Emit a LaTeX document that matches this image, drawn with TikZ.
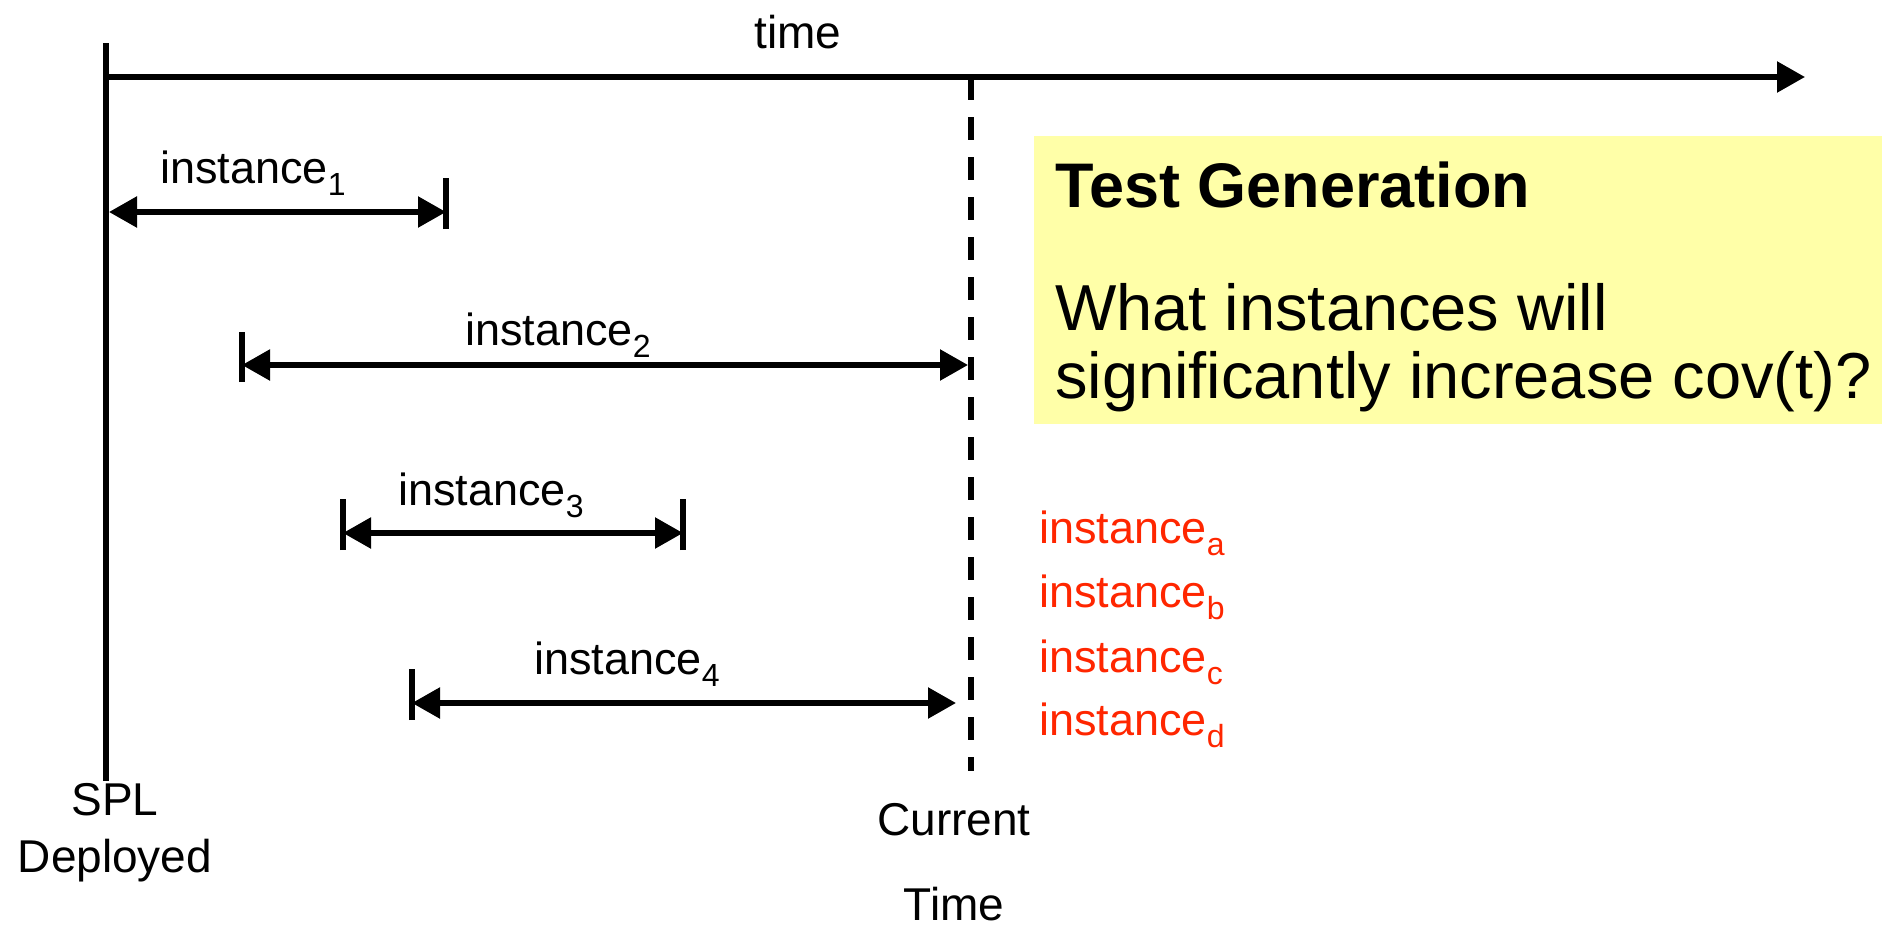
\documentclass[tikz,border=0pt]{standalone}
\usepackage{fontspec}
\setmainfont{Liberation Sans}
\usetikzlibrary{arrows.meta}
\definecolor{notefill}{HTML}{FFFFA8}
\definecolor{candred}{HTML}{FF2600}
\newcommand\lsub[1]{\raisebox{-12pt}{\fontsize{32}{32}\selectfont #1}}
\begin{document}
\begin{tikzpicture}[x=1pt,y=-1pt,
  lbl/.style={inner sep=0pt,anchor=base west,font=\fontsize{45}{54}\selectfont},
  clbl/.style={inner sep=0pt,anchor=base,font=\fontsize{46}{54}\selectfont},
  axisline/.style={line width=5.5pt},
  tipend/.style={-{Triangle[length=28pt,width=30pt]}},
  span/.style={line width=5.5pt,{Triangle[length=28pt,width=30pt]}-{Triangle[length=28pt,width=30pt]}},
  endbar/.style={line width=5.5pt},
  cand/.style={lbl,text=candred}]
\useasboundingbox (0,0) rectangle (1891,926);

% frame of the time line
\coordinate (splTop) at (106,43);
\coordinate (splBot) at (106,781);
\coordinate (axisL) at (106,77);
\coordinate (axisR) at (1805,77);
\coordinate (nowTop) at (971,77);
\coordinate (nowBot) at (971,771);
\draw[axisline] (splTop) -- (splBot);
\draw[axisline,tipend] (axisL) -- (axisR);
\draw[line width=5.5pt,dash pattern=on 23pt off 17pt] (nowTop) -- (nowBot);

\node[clbl] (timeLbl) at (798,48) {time};
\node[clbl] (spl) at (115,815) {SPL};
\node[clbl] (dep) at (115,872) {Deployed};
\node[clbl] (cur) at (954,835) {Current};
\node[clbl] (curT) at (954,920) {Time};

% instance 1
\coordinate (a1) at (109,212);
\coordinate (b1) at (446,212);
\draw[span] (a1) -- (b1);
\draw[endbar] ([yshift=-17pt]b1) -- ([yshift=34pt]b1);
\node[lbl] (n1) at (160,183) {instance\lsub{1}};

% instance 2
\coordinate (a2) at (242,365);
\coordinate (b2) at (968,365);
\draw[span] (a2) -- (b2);
\draw[endbar] ([yshift=-17pt]a2) -- ([yshift=33pt]a2);
\node[lbl] (n2) at (465,345) {instance\lsub{2}};

% instance 3
\coordinate (a3) at (343,533);
\coordinate (b3) at (683,533);
\draw[span] (a3) -- (b3);
\draw[endbar] ([yshift=-17pt]a3) -- ([yshift=34pt]a3);
\draw[endbar] ([yshift=-17pt]b3) -- ([yshift=34pt]b3);
\node[lbl] (n3) at (398,505) {instance\lsub{3}};

% instance 4
\coordinate (a4) at (412,703);
\coordinate (b4) at (956,703);
\draw[span] (a4) -- (b4);
\draw[endbar] ([yshift=-17pt]a4) -- ([yshift=34pt]a4);
\node[lbl] (n4) at (534,674) {instance\lsub{4}};

% note box
\fill[notefill] (1034,136) rectangle (1882,424);
\node[inner sep=0pt,anchor=base west,font=\fontsize{63}{70}\selectfont\bfseries] (tg) at (1055,207) {Test Generation};
\node[inner sep=0pt,anchor=base west,font=\fontsize{65}{70}\selectfont] (q1) at (1055,330) {What instances will};
\node[inner sep=0pt,anchor=base west,font=\fontsize{65}{70}\selectfont] (q2) at (1055,398) {significantly increase cov(t)?};

% candidate instances
\node[cand] (ca) at (1039,543) {instance\lsub{a}};
\node[cand] (cb) at (1039,607) {instance\lsub{b}};
\node[cand] (cc) at (1039,672) {instance\lsub{c}};
\node[cand] (cd) at (1039,735) {instance\lsub{d}};
\end{tikzpicture}
\end{document}
